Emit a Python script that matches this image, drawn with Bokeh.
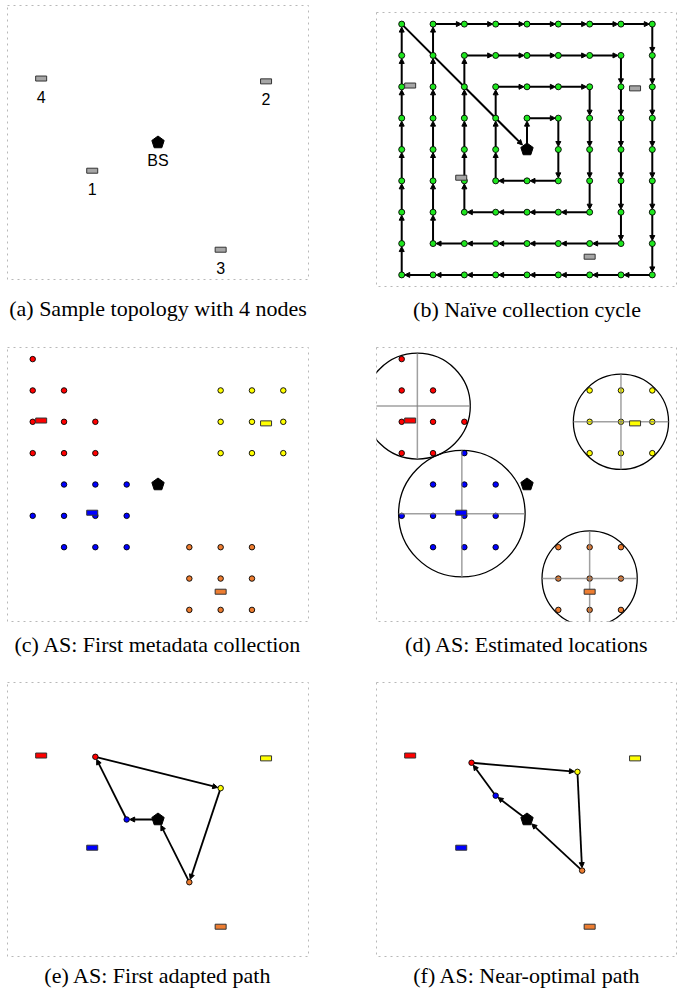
import numpy as np
from bokeh.plotting import figure
from bokeh.models import Range1d, ColumnDataSource, Arrow, NormalHead, Title
from bokeh.layouts import column, row
from bokeh.embed import file_html
from bokeh.resources import INLINE
from bokeh.core.properties import value

# ---------------- data ----------------
bs_x = [4.0]
bs_y = [4.0]
bs_label = ["BS"]

node_labels = ["1", "2", "3", "4"]
node_x = [1.9, 7.45, 6.0, 0.27]
node_y = [3.1, 5.95, 0.58, 6.04]
node_colors = ["#0000ff", "#ffff00", "#ed7d31", "#ff0000"]  # cluster colour of node 1..4

# (b) naive spiral collection cycle (grid units), starts and ends at BS
spiral_x = [4, 4, 5, 5, 5, 4, 3, 3, 3, 3, 4, 5, 6, 6, 6, 6, 6, 5, 4, 3, 2, 2, 2, 2, 2, 2,
            3, 4, 5, 6, 7, 7, 7, 7, 7, 7, 7, 6, 5, 4, 3, 2, 1, 1, 1, 1, 1, 1, 1, 1,
            2, 3, 4, 5, 6, 7, 8, 8, 8, 8, 8, 8, 8, 8, 8, 7, 6, 5, 4, 3, 2, 1,
            0, 0, 0, 0, 0, 0, 0, 0, 0, 4]
spiral_y = [4, 5, 5, 4, 3, 3, 3, 4, 5, 6, 6, 6, 6, 5, 4, 3, 2, 2, 2, 2, 2, 3, 4, 5, 6, 7,
            7, 7, 7, 7, 7, 6, 5, 4, 3, 2, 1, 1, 1, 1, 1, 1, 1, 2, 3, 4, 5, 6, 7, 8,
            8, 8, 8, 8, 8, 8, 8, 7, 6, 5, 4, 3, 2, 1, 0, 0, 0, 0, 0, 0, 0, 0,
            0, 1, 2, 3, 4, 5, 6, 7, 8, 4]

# (c) metadata collection points per cluster
c_red_x = [0, 0, 1, 0, 1, 2, 0, 1, 2]
c_red_y = [8, 7, 7, 6, 6, 6, 5, 5, 5]
c_yel_x = [6, 7, 8, 6, 7, 8, 6, 7, 8]
c_yel_y = [7, 7, 7, 6, 6, 6, 5, 5, 5]
c_blu_x = [1, 2, 3, 0, 1, 2, 3, 1, 2, 3]
c_blu_y = [4, 4, 4, 3, 3, 3, 3, 2, 2, 2]
c_ora_x = [5, 6, 7, 5, 6, 7, 5, 6, 7]
c_ora_y = [2, 2, 2, 1, 1, 1, 0, 0, 0]

# (d) estimated locations: circles (centre, radius) per cluster
d_red_x = [0, 0, 1, 0, 1, 2, 0, 1]
d_red_y = [8, 7, 7, 6, 6, 6, 5, 5]
d_blu_x = [2, 1, 2, 3, 0, 1, 2, 3, 1, 2, 3]
d_blu_y = [5, 4, 4, 4, 3, 3, 3, 3, 2, 2, 2]
circ_x = [0.5, 1.92, 7.0, 6.0]
circ_y = [6.5, 3.07, 6.0, 1.0]
circ_r = [1.69, 2.02, 1.52, 1.52]

# (e) first adapted path: BS -> blue -> red -> yellow -> orange -> BS
e_path_x = [4, 3, 2, 6, 5, 4]
e_path_y = [4, 4, 6, 5, 2, 4]
# (f) near-optimal path
f_path_x = [4, 3.0, 2.23, 5.61, 5.76, 4]
f_path_y = [4, 4.76, 5.81, 5.52, 2.37, 4]
path_colors = ["#0000ff", "#ff0000", "#ffff00", "#ed7d31"]

captions = ["(a) Sample topology with 4 nodes", "(b) Na\u00efve collection cycle",
            "(c) AS: First metadata collection", "(d) AS: Estimated locations",
            "(e) AS: First adapted path", "(f) AS: Near-optimal path"]

# ---------------- styling ----------------
X0, X1 = -0.805, 8.805
Y0, Y1 = -0.37, 8.37
FRAME_W, FRAME_H = 301, 274
PX_PER_UNIT = FRAME_H / (Y1 - Y0)
GREEN = "#1ee61e"
DOT_R = 3.0 / PX_PER_UNIT
BS_R = 6.5 / PX_PER_UNIT


def make_fig(width, height, left, top, bottom, right):
    p = figure(width=width, height=height, x_range=Range1d(X0, X1), y_range=Range1d(Y0, Y1),
               output_backend="svg", toolbar_location=None,
               x_axis_location=None, y_axis_location=None,
               min_border=0, min_border_left=left, min_border_right=right,
               min_border_top=top, min_border_bottom=bottom)
    p.grid.grid_line_color = None
    p.outline_line_color = "#b8b8b8"
    p.outline_line_dash = "dotted"
    p.outline_line_width = 1
    p.background_fill_color = "white"
    p.border_fill_color = "white"
    return p


def add_bs(p):
    ang = np.deg2rad(90 + 72 * np.arange(5))
    xs = [list(bx + BS_R * np.cos(ang)) for bx in bs_x]
    ys = [list(by + BS_R * np.sin(ang)) for by in bs_y]
    p.patches(xs, ys, fill_color="black", line_color="black", line_width=1)


def add_rects(p, colors):
    p.rect(node_x, node_y, width=11, height=5, width_units="screen", height_units="screen",
           fill_color=colors, line_color="#333333", line_width=1)


def add_path(p, xs, ys, end_r, lw, head):
    xs = np.asarray(xs, float)
    ys = np.asarray(ys, float)
    x0, y0, x1, y1 = xs[:-1], ys[:-1], xs[1:], ys[1:]
    d = np.hypot(x1 - x0, y1 - y0)
    er = np.asarray(end_r, float)
    xe = x1 - (x1 - x0) / d * er
    ye = y1 - (y1 - y0) / d * er
    src = ColumnDataSource(dict(x0=x0, y0=y0, x1=xe, y1=ye))
    p.add_layout(Arrow(end=NormalHead(size=head, fill_color="black", line_color="black", line_width=1),
                       x_start="x0", y_start="y0", x_end="x1", y_end="y1", source=src,
                       line_color="black", line_width=lw, level="underlay"))


def add_dots(p, xs, ys, color, size=5.5):
    p.scatter(xs, ys, size=size, fill_color=color, line_color="black", line_width=0.9)


def add_caption(p, text, standoff):
    p.add_layout(Title(text=text, align="center", vertical_align="bottom",
                       text_font="Liberation Serif", text_font_size="22px",
                       text_font_style="normal", text_color="black", standoff=standoff), "below")


# ---------------- (a) ----------------
pa = make_fig(376, 347, 7, 5, 68, 68)
add_rects(pa, ["#a6a6a6"] * 4)
add_bs(pa)
pa.text(node_x, node_y, text=node_labels, text_font=value("Liberation Sans"), text_font_size="16px",
        text_align="center", text_baseline="middle", y_offset=18, text_color="black")
pa.text(bs_x, bs_y, text=bs_label, text_font=value("Liberation Sans"), text_font_size="16px",
        text_align="center", text_baseline="middle", y_offset=18, text_color="black")
add_caption(pa, captions[0], 28)

# ---------------- (b) ----------------
pb = make_fig(301, 347, 0, 12, 61, 0)
ends_b = [BS_R if (x == bs_x[0] and y == bs_y[0]) else DOT_R for x, y in zip(spiral_x[1:], spiral_y[1:])]
add_path(pb, spiral_x, spiral_y, ends_b, 2, 5)
add_dots(pb, spiral_x[1:-1], spiral_y[1:-1], GREEN, size=6)
add_rects(pb, ["#a6a6a6"] * 4)
add_bs(pb)
add_caption(pb, captions[1], 16)

# ---------------- (c) ----------------
pc = make_fig(376, 335, 7, 0, 61, 68)
add_dots(pc, c_blu_x, c_blu_y, "#0000ff")
add_dots(pc, c_red_x, c_red_y, "#ff0000")
add_dots(pc, c_yel_x, c_yel_y, "#ffff00")
add_dots(pc, c_ora_x, c_ora_y, "#ed7d31")
add_rects(pc, node_colors)
add_bs(pc)
add_caption(pc, captions[2], 16)

# ---------------- (d) ----------------
pd = make_fig(301, 335, 0, 0, 61, 0)
pd.circle(circ_x, circ_y, radius=circ_r, fill_color=None, line_color="black", line_width=1.3)
add_dots(pd, d_red_x, d_red_y, "#ff0000")
add_dots(pd, d_blu_x, d_blu_y, "#0000ff")
add_dots(pd, c_yel_x, c_yel_y, "#ffff00")
add_dots(pd, c_ora_x, c_ora_y, "#ed7d31")
cx = np.array(circ_x); cy = np.array(circ_y); cr = np.array(circ_r)
pd.segment(cx - cr, cy, cx + cr, cy, line_color="#808080", line_alpha=0.75, line_width=1.5)
pd.segment(cx, cy - cr, cx, cy + cr, line_color="#808080", line_alpha=0.75, line_width=1.5)
add_rects(pd, node_colors)
add_bs(pd)
add_caption(pd, captions[3], 16)

# ---------------- (e) ----------------
pe = make_fig(376, 309, 7, 0, 35, 68)
add_path(pe, e_path_x, e_path_y, [DOT_R] * 4 + [BS_R], 1.8, 5)
add_dots(pe, e_path_x[1:-1], e_path_y[1:-1], path_colors)
add_rects(pe, node_colors)
add_bs(pe)
add_caption(pe, captions[4], 8)

# ---------------- (f) ----------------
pf = make_fig(301, 309, 0, 0, 35, 0)
add_path(pf, f_path_x, f_path_y, [DOT_R] * 4 + [BS_R], 1.8, 5)
add_dots(pf, f_path_x[1:-1], f_path_y[1:-1], path_colors)
add_rects(pf, node_colors)
add_bs(pf)
add_caption(pf, captions[5], 8)

layout = row(column(pa, pc, pe), column(pb, pd, pf))
open("out.html", "w").write(file_html(layout, INLINE))
